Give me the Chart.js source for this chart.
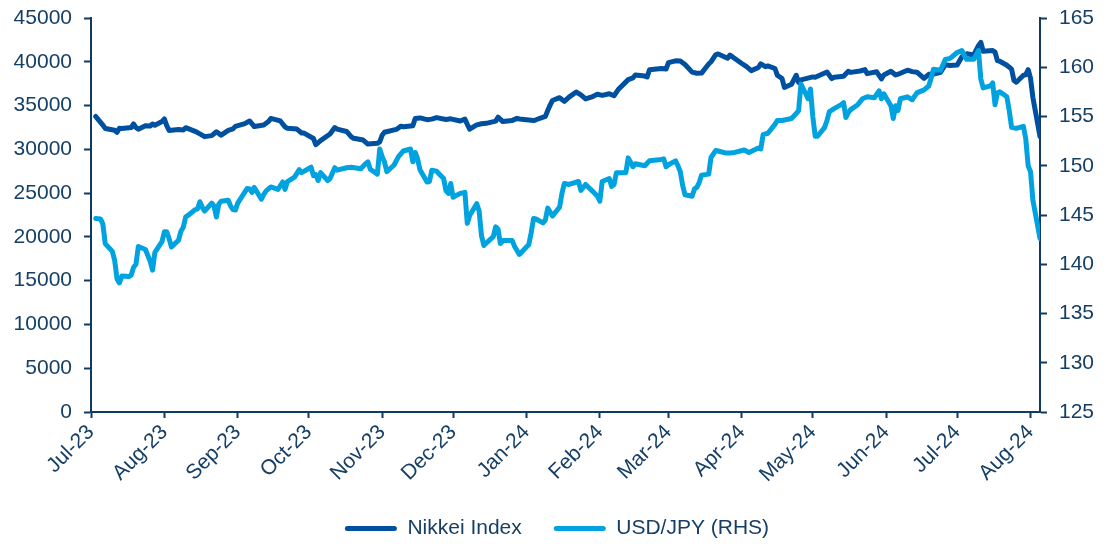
<!DOCTYPE html>
<html>
<head>
<meta charset="utf-8">
<script src="https://cdn.jsdelivr.net/npm/chart.js@4.4.1/dist/chart.umd.min.js"></script>
<style>
html,body{margin:0;padding:0;background:#fff;overflow:hidden}
#wrap{width:1114px;height:549px;position:relative}
</style>
</head>
<body>
<div id="wrap"><canvas id="c"></canvas></div>
<script>
// ---- Tick labels (month starts on the date axis) ----
const monthLabels = ["Jul-23","Aug-23","Sep-23","Oct-23","Nov-23","Dec-23","Jan-24","Feb-24","Mar-24","Apr-24","May-24","Jun-24","Jul-24","Aug-24"];
const monthStarts = ["2023-07-01","2023-08-01","2023-09-01","2023-10-01","2023-11-01","2023-12-01","2024-01-01","2024-02-01","2024-03-01","2024-04-01","2024-05-01","2024-06-01","2024-07-01","2024-08-01"];

// ---- Nikkei Index (left axis) ----
const nikkeiDates = ["2023-07-03","2023-07-04","2023-07-06","2023-07-07","2023-07-11","2023-07-12","2023-07-13","2023-07-14","2023-07-18","2023-07-19","2023-07-20","2023-07-21","2023-07-24","2023-07-26","2023-07-27","2023-07-28","2023-07-31","2023-08-01","2023-08-02","2023-08-03","2023-08-07","2023-08-09","2023-08-10","2023-08-14","2023-08-16","2023-08-18","2023-08-21","2023-08-23","2023-08-25","2023-08-28","2023-08-30","2023-08-31","2023-09-04","2023-09-06","2023-09-08","2023-09-12","2023-09-14","2023-09-15","2023-09-19","2023-09-21","2023-09-22","2023-09-26","2023-09-28","2023-09-29","2023-10-03","2023-10-04","2023-10-06","2023-10-10","2023-10-12","2023-10-13","2023-10-17","2023-10-19","2023-10-20","2023-10-24","2023-10-26","2023-10-30","2023-10-31","2023-11-01","2023-11-02","2023-11-07","2023-11-09","2023-11-10","2023-11-14","2023-11-15","2023-11-17","2023-11-20","2023-11-22","2023-11-24","2023-11-28","2023-11-30","2023-12-04","2023-12-06","2023-12-07","2023-12-08","2023-12-11","2023-12-13","2023-12-15","2023-12-19","2023-12-20","2023-12-22","2023-12-26","2023-12-28","2023-12-29","2024-01-04","2024-01-05","2024-01-09","2024-01-10","2024-01-11","2024-01-12","2024-01-15","2024-01-17","2024-01-19","2024-01-22","2024-01-24","2024-01-26","2024-01-29","2024-01-31","2024-02-02","2024-02-05","2024-02-07","2024-02-09","2024-02-13","2024-02-15","2024-02-16","2024-02-20","2024-02-21","2024-02-22","2024-02-27","2024-02-29","2024-03-01","2024-03-04","2024-03-06","2024-03-08","2024-03-11","2024-03-13","2024-03-15","2024-03-18","2024-03-19","2024-03-21","2024-03-22","2024-03-26","2024-03-27","2024-03-29","2024-04-01","2024-04-03","2024-04-05","2024-04-08","2024-04-09","2024-04-11","2024-04-12","2024-04-15","2024-04-16","2024-04-18","2024-04-19","2024-04-22","2024-04-24","2024-04-25","2024-04-26","2024-05-01","2024-05-02","2024-05-07","2024-05-09","2024-05-10","2024-05-14","2024-05-16","2024-05-17","2024-05-21","2024-05-23","2024-05-24","2024-05-28","2024-05-30","2024-05-31","2024-06-03","2024-06-05","2024-06-07","2024-06-10","2024-06-12","2024-06-14","2024-06-17","2024-06-19","2024-06-21","2024-06-24","2024-06-26","2024-06-28","2024-07-01","2024-07-03","2024-07-05","2024-07-08","2024-07-10","2024-07-11","2024-07-12","2024-07-16","2024-07-17","2024-07-18","2024-07-19","2024-07-22","2024-07-24","2024-07-25","2024-07-26","2024-07-29","2024-07-30","2024-07-31","2024-08-01","2024-08-02","2024-08-05"];
const nikkeiValues = [33753,33422,32773,32388,32189,31943,32419,32391,32493,32896,32490,32304,32700,32668,32891,32759,33172,33476,32707,32159,32254,32204,32473,32059,31766,31450,31565,32010,31624,32169,32333,32619,32939,33241,32607,32776,33168,33533,33242,32571,32402,32315,31872,31857,31237,30526,30995,31746,32494,32315,32041,31431,31259,31062,30601,30697,30858,31601,31949,32272,32646,32568,32695,33519,33585,33388,33451,33625,33408,33486,33231,33446,32858,32307,32791,32926,32970,33219,33675,33169,33305,33540,33464,33288,33377,33763,34441,35049,35577,35901,35477,35963,36546,36226,35751,36026,36286,36158,36354,36119,36897,37963,38157,38487,38364,38262,39098,39239,39166,39910,40109,40090,39688,38820,38695,38707,39740,40003,40815,40888,40398,40762,40369,39803,39451,38992,39347,39773,39442,39523,39232,38471,38079,37068,37438,38460,37628,37934,38274,38236,38835,38073,38229,38356,38920,38787,38947,39103,38646,38855,38054,38487,38923,38490,38683,39038,38877,38814,38102,38570,38596,38804,39667,39583,39631,40580,40912,40780,41831,42224,41190,41275,41097,40126,40063,39599,39154,37869,37667,38468,38526,39101,38126,35909,31458];

// ---- USD/JPY (right axis) ----
const usdjpyDates = ["2023-07-03","2023-07-05","2023-07-06","2023-07-07","2023-07-10","2023-07-11","2023-07-12","2023-07-13","2023-07-14","2023-07-17","2023-07-18","2023-07-19","2023-07-20","2023-07-21","2023-07-24","2023-07-25","2023-07-26","2023-07-27","2023-07-28","2023-07-31","2023-08-01","2023-08-02","2023-08-03","2023-08-04","2023-08-07","2023-08-08","2023-08-09","2023-08-10","2023-08-11","2023-08-14","2023-08-15","2023-08-16","2023-08-17","2023-08-18","2023-08-21","2023-08-22","2023-08-23","2023-08-24","2023-08-25","2023-08-28","2023-08-29","2023-08-30","2023-08-31","2023-09-01","2023-09-05","2023-09-06","2023-09-07","2023-09-08","2023-09-11","2023-09-12","2023-09-13","2023-09-15","2023-09-18","2023-09-20","2023-09-21","2023-09-22","2023-09-25","2023-09-27","2023-09-28","2023-10-02","2023-10-03","2023-10-04","2023-10-05","2023-10-06","2023-10-09","2023-10-10","2023-10-12","2023-10-13","2023-10-17","2023-10-19","2023-10-23","2023-10-25","2023-10-26","2023-10-27","2023-10-30","2023-10-31","2023-11-01","2023-11-02","2023-11-03","2023-11-06","2023-11-08","2023-11-10","2023-11-13","2023-11-14","2023-11-15","2023-11-16","2023-11-17","2023-11-20","2023-11-21","2023-11-22","2023-11-24","2023-11-27","2023-11-28","2023-11-29","2023-11-30","2023-12-01","2023-12-04","2023-12-06","2023-12-07","2023-12-08","2023-12-11","2023-12-12","2023-12-13","2023-12-14","2023-12-15","2023-12-18","2023-12-19","2023-12-20","2023-12-21","2023-12-22","2023-12-26","2023-12-27","2023-12-28","2023-12-29","2024-01-02","2024-01-03","2024-01-04","2024-01-05","2024-01-08","2024-01-09","2024-01-10","2024-01-11","2024-01-12","2024-01-15","2024-01-16","2024-01-17","2024-01-19","2024-01-23","2024-01-24","2024-01-26","2024-01-29","2024-01-31","2024-02-01","2024-02-02","2024-02-05","2024-02-06","2024-02-07","2024-02-08","2024-02-12","2024-02-13","2024-02-15","2024-02-16","2024-02-20","2024-02-22","2024-02-26","2024-02-28","2024-02-29","2024-03-01","2024-03-04","2024-03-05","2024-03-06","2024-03-07","2024-03-08","2024-03-11","2024-03-12","2024-03-13","2024-03-14","2024-03-15","2024-03-18","2024-03-19","2024-03-21","2024-03-22","2024-03-25","2024-03-27","2024-03-29","2024-04-02","2024-04-04","2024-04-08","2024-04-09","2024-04-10","2024-04-12","2024-04-15","2024-04-16","2024-04-18","2024-04-22","2024-04-24","2024-04-25","2024-04-26","2024-04-29","2024-04-30","2024-05-01","2024-05-02","2024-05-03","2024-05-06","2024-05-07","2024-05-08","2024-05-10","2024-05-13","2024-05-14","2024-05-15","2024-05-16","2024-05-17","2024-05-20","2024-05-22","2024-05-24","2024-05-27","2024-05-29","2024-05-30","2024-05-31","2024-06-03","2024-06-04","2024-06-05","2024-06-06","2024-06-07","2024-06-10","2024-06-12","2024-06-14","2024-06-17","2024-06-19","2024-06-20","2024-06-21","2024-06-24","2024-06-26","2024-06-28","2024-07-01","2024-07-03","2024-07-04","2024-07-05","2024-07-08","2024-07-10","2024-07-11","2024-07-12","2024-07-15","2024-07-16","2024-07-17","2024-07-18","2024-07-19","2024-07-22","2024-07-23","2024-07-24","2024-07-26","2024-07-29","2024-07-30","2024-07-31","2024-08-01","2024-08-02","2024-08-05"];
const usdjpyValues = [144.65,144.6,144.1,142.1,141.3,140.4,138.5,138.1,138.8,138.75,138.9,139.7,140.0,141.8,141.5,140.9,140.3,139.4,141.2,142.3,143.3,143.3,142.6,141.75,142.45,143.35,143.75,144.8,144.95,145.55,145.6,146.35,145.8,145.4,146.2,145.9,144.8,146.1,146.4,146.5,145.9,145.55,145.5,146.2,147.7,147.65,147.3,147.8,146.6,147.1,147.45,147.85,147.6,148.35,147.6,148.4,148.85,149.6,149.3,149.85,149.0,149.1,148.5,149.3,148.5,148.7,149.8,149.55,149.8,149.85,149.7,150.2,150.4,149.65,149.15,151.7,150.95,150.4,149.4,150.05,150.95,151.5,151.7,150.4,151.35,150.7,149.6,148.35,148.4,149.55,149.45,148.7,147.45,147.2,148.2,146.8,147.2,147.3,144.15,144.95,146.15,145.4,142.9,141.9,142.15,142.8,143.8,143.55,142.1,142.4,142.4,141.8,141.4,141.0,142.0,143.2,144.65,144.6,144.2,144.5,145.7,145.3,144.9,145.8,147.2,148.2,148.1,148.4,147.5,148.1,147.4,146.9,146.4,148.4,148.7,147.9,148.1,149.3,149.3,150.8,149.9,150.2,150.0,150.5,150.6,150.7,149.9,150.1,150.5,150.0,149.4,148.0,147.05,146.9,147.65,147.8,148.3,149.05,149.15,150.85,151.55,151.5,151.3,151.3,151.35,151.6,151.35,151.8,151.7,153.15,153.3,154.2,154.6,154.6,154.8,155.3,155.6,158.3,156.8,157.8,155.0,153.0,153.0,153.9,154.6,155.5,155.8,156.2,156.4,154.9,155.4,155.7,156.2,156.8,157.0,156.9,157.6,156.8,157.3,156.1,154.8,156.1,155.6,156.8,157.0,156.7,157.4,157.7,158.1,158.9,159.8,159.7,160.8,160.9,161.5,161.7,161.2,160.8,160.8,161.7,158.8,157.9,158.1,158.4,156.2,157.4,157.5,157.0,155.6,153.9,153.8,154.0,152.7,150.0,149.4,146.5,142.6];

// ---- axis ranges / ticks ----
const leftMin = 0, leftMax = 45000, leftStep = 5000;
const rightMin = 125, rightMax = 165, rightStep = 5;

const DAY0 = Date.UTC(2023, 6, 1);
const toDay = s => (Date.parse(s + "T00:00:00Z") - DAY0) / 86400000;

const TEXT = '#163F66';
const AXIS = '#0F3B63';
const FONT = {family: "'Liberation Sans', Arial, sans-serif", size: 21};

Chart.defaults.font.family = FONT.family;
Chart.defaults.font.size = FONT.size;
Chart.defaults.color = TEXT;

const series = (dates, vals) => dates.map((d, i) => ({x: toDay(d), y: vals[i]}));

new Chart(document.getElementById('c'), {
  type: 'line',
  data: {
    datasets: [
      {label: 'Nikkei Index', data: series(nikkeiDates, nikkeiValues), yAxisID: 'y',
       borderColor: '#0050A0', backgroundColor: '#0050A0', borderWidth: 5,
       pointRadius: 0, tension: 0, borderJoinStyle: 'round', borderCapStyle: 'round', order: 2},
      {label: 'USD/JPY (RHS)', data: series(usdjpyDates, usdjpyValues), yAxisID: 'y2',
       borderColor: '#00A3E0', backgroundColor: '#00A3E0', borderWidth: 5,
       pointRadius: 0, tension: 0, borderJoinStyle: 'round', borderCapStyle: 'round', order: 1}
    ]
  },
  options: {
    responsive: true,
    maintainAspectRatio: false,
    animation: false,
    layout: {padding: {top: 18, left: 0, right: 0, bottom: 0}},
    plugins: {
      tooltip: {enabled: false},
      legend: {
        position: 'bottom',
        labels: {
          boxWidth: 52, boxHeight: 5, padding: 32, color: TEXT, font: FONT,
          sort: (a, b) => a.datasetIndex - b.datasetIndex,
          generateLabels: chart => {
            const items = Chart.defaults.plugins.legend.labels.generateLabels(chart);
            items.forEach(it => { it.fillStyle = it.strokeStyle; it.lineWidth = 0; it.borderRadius = 2.5; });
            return items;
          }
        }
      }
    },
    scales: {
      x: {
        type: 'linear',
        min: toDay(monthStarts[0]),
        max: toDay(nikkeiDates[nikkeiDates.length - 1]),
        afterBuildTicks: s => { s.ticks = monthStarts.map(d => ({value: toDay(d)})); },
        afterFit: s => { s.height = 74; s.paddingLeft = 0; s.paddingRight = 0; },
        ticks: {autoSkip: false, maxRotation: 45, minRotation: 45, padding: 2, color: TEXT, font: FONT,
                callback: (v, i) => monthLabels[i]},
        grid: {drawOnChartArea: false, drawTicks: true, tickLength: 6, tickWidth: 2, tickColor: AXIS},
        border: {display: true, color: AXIS, width: 2}
      },
      y: {
        position: 'left', min: leftMin, max: leftMax,
        afterFit: s => { s.width = 91; s.paddingTop = 0; s.paddingBottom = 0; },
        ticks: {stepSize: leftStep, padding: 12, color: TEXT, font: FONT, callback: v => String(v)},
        grid: {drawOnChartArea: false, tickLength: 7, tickWidth: 2, tickColor: AXIS},
        border: {display: true, color: AXIS, width: 2}
      },
      y2: {
        position: 'right', min: rightMin, max: rightMax,
        afterFit: s => { s.width = 74; s.paddingTop = 0; s.paddingBottom = 0; },
        ticks: {stepSize: rightStep, padding: 12, color: TEXT, font: FONT, callback: v => String(v)},
        grid: {drawOnChartArea: false, tickLength: 7, tickWidth: 2, tickColor: AXIS},
        border: {display: true, color: AXIS, width: 2}
      }
    }
  }
});
</script>
</body>
</html>
